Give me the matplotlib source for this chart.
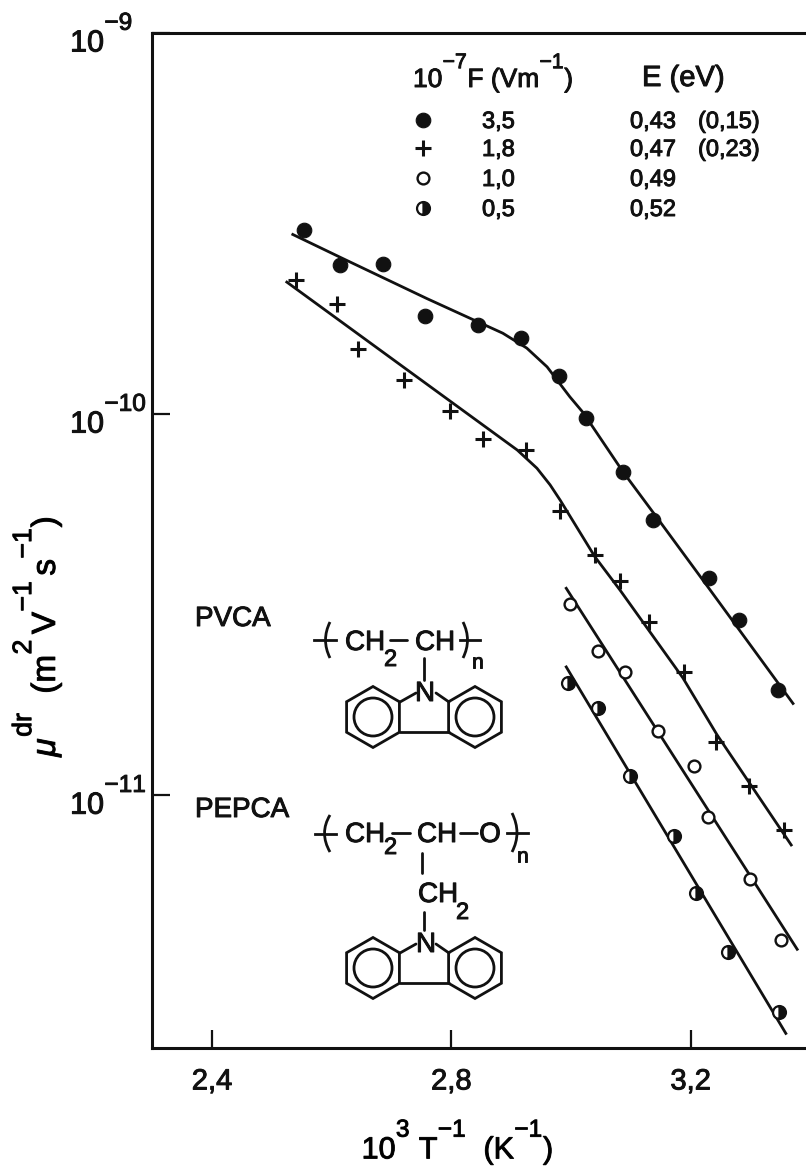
#!/usr/bin/env python3
"""Drift mobility against inverse temperature for PVCA / PEPCA."""

from __future__ import annotations

import numpy as np
import matplotlib

matplotlib.use("Agg")
import matplotlib._mathtext as mt
import matplotlib.patheffects as pe
import matplotlib.pyplot as plt
from matplotlib.patches import Circle, PathPatch, Polygon
from matplotlib.path import Path
from matplotlib.text import Text
from matplotlib.ticker import NullLocator

INK = "#111111"

# measured points, one pair of lists per field strength
X_35 = [2.554, 2.614, 2.686, 2.756, 2.845, 2.916, 2.980, 3.025, 3.087, 3.137, 3.230, 3.280, 3.346]
MU_35 = [3.04e-10, 2.46e-10, 2.48e-10, 1.81e-10, 1.71e-10, 1.58e-10, 1.26e-10, 9.77e-11, 7.05e-11,
         5.27e-11, 3.72e-11, 2.88e-11, 1.89e-11]
X_18 = [2.540, 2.609, 2.644, 2.721, 2.798, 2.853, 2.925, 2.982, 3.040, 3.082, 3.130, 3.189, 3.242, 3.297, 3.356]
MU_18 = [2.25e-10, 1.95e-10, 1.48e-10, 1.23e-10, 1.02e-10, 8.59e-11, 8.05e-11, 5.56e-11, 4.27e-11,
         3.65e-11, 2.85e-11, 2.10e-11, 1.38e-11, 1.06e-11, 8.09e-12]
X_10 = [2.998, 3.045, 3.090, 3.145, 3.205, 3.229, 3.299, 3.351]
MU_10 = [3.17e-11, 2.39e-11, 2.11e-11, 1.47e-11, 1.19e-11, 8.75e-12, 6.03e-12, 4.16e-12]
X_05 = [2.995, 3.045, 3.099, 3.172, 3.209, 3.262, 3.348]
MU_05 = [1.97e-11, 1.69e-11, 1.12e-11, 7.80e-12, 5.53e-12, 3.87e-12, 2.69e-12]

# hand-drawn fit lines
FIT_X_35 = [2.535, 2.614, 2.759, 2.836, 2.886, 2.926, 2.960, 2.998, 3.020, 3.087, 3.149, 3.231, 3.371]
FIT_MU_35 = [2.96e-10, 2.58e-10, 2.01e-10, 1.77e-10, 1.63e-10, 1.49e-10, 1.33e-10, 1.11e-10, 1.01e-10,
             7.05e-11, 5.21e-11, 3.48e-11, 1.74e-11]
FIT_X_18 = [2.525, 2.731, 2.910, 2.943, 2.965, 2.982, 3.040, 3.082, 3.132, 3.187, 3.244, 3.368]
FIT_MU_18 = [2.22e-10, 1.29e-10, 8.05e-11, 7.21e-11, 6.52e-11, 5.94e-11, 4.22e-11, 3.45e-11, 2.68e-11,
             2.03e-11, 1.44e-11, 7.40e-12]
FIT_X_10 = [2.992, 3.378]
FIT_MU_10 = [3.49e-11, 3.94e-12]
FIT_X_05 = [2.992, 3.359]
FIT_MU_05 = [2.17e-11, 2.37e-12]

X_TICKS = [2.4, 2.8, 3.2]
X_TICK_LABELS = ["2,4", "2,8", "3,2"]
Y_TICKS = [1e-11, 1e-10, 1e-9]
Y_TICK_LABELS = ["$10^{-11}$", "$10^{-10}$", "$10^{-9}$"]

FIELD_LABELS = ["3,5", "1,8", "1,0", "0,5"]
ENERGY_LABELS = ["0,43", "0,47", "0,49", "0,52"]
ENERGY_EXTRA = ["(0,15)", "(0,23)", "", ""]

FILLED = dict(marker="o", ms=10.5, mfc=INK, mec=INK, mew=0.8, ls="none")
PLUS = dict(marker="+", ms=12, mec=INK, mew=2.2, ls="none")
OPEN = dict(marker="o", ms=8.5, mfc="white", mec=INK, mew=1.7, ls="none")
HALF = dict(marker="o", ms=9.3, mfc=INK, mec=INK, mew=1.6, ls="none", fillstyle="right", markerfacecoloralt="white")


def label(ov, x, y, s, size=20, ha="left"):
    ov.text(x, y + 2, s, fontsize=size, va="center", ha=ha)


def bracket(ov, top, bulge, bottom, bar):
    path = Path([top, bulge, bottom], [Path.MOVETO, Path.CURVE3, Path.CURVE3])
    ov.add_patch(PathPatch(path, fc="none", ec=INK, lw=2.0))
    ov.plot(bar, [(top[1] + bottom[1]) / 2] * 2, color=INK, lw=2.0)


def bond(ov, xs, ys):
    ov.plot(xs, ys, color=INK, lw=2.0, solid_capstyle="round")


def carbazole(ov, y_mid):
    # two benzene rings joined by the five-membered ring with N at the top
    for cx in (373, 475):
        angles = np.deg2rad(np.arange(90, 450, 60))
        pts = np.column_stack([cx + 30.5 * np.cos(angles), y_mid - 30.5 * np.sin(angles)])
        ov.add_patch(Polygon(pts, closed=True, fc="none", ec=INK, lw=2.0))
        ov.add_patch(Circle((cx, y_mid), 19, fc="none", ec=INK, lw=2.0))
    bond(ov, [400, 416], [y_mid - 15, y_mid - 24])
    bond(ov, [436, 449], [y_mid - 24, y_mid - 15])
    bond(ov, [400, 449], [y_mid + 15, y_mid + 15])


def main() -> int:
    plt.rcParams.update(
        {
            "font.family": "Liberation Sans",
            "mathtext.fontset": "custom",
            "mathtext.rm": "Liberation Sans",
            "mathtext.it": "Liberation Sans:italic",
            "mathtext.bf": "Liberation Sans",
            "mathtext.default": "regular",
            "text.color": INK,
        }
    )
    # superscripts in the original are large and sit high
    mt.SHRINK_FACTOR = 0.8
    mt.FontConstantsBase.sup1 = 1.35

    fig = plt.figure(figsize=(8.06, 11.67), dpi=100)
    ax = fig.add_axes([152 / 806, (1167 - 1048) / 1167, 654 / 806, 1015 / 1167])
    ax.set_yscale("log")
    ax.set_xlim(2.2997, 3.3927)
    ax.set_ylim(2.17e-12, 1e-9)

    for xs, ys in [(FIT_X_35, FIT_MU_35), (FIT_X_18, FIT_MU_18), (FIT_X_10, FIT_MU_10), (FIT_X_05, FIT_MU_05)]:
        ax.plot(xs, ys, color=INK, lw=2.0, solid_joinstyle="round")
    ax.plot(X_35, MU_35, **FILLED)
    ax.plot(X_18, MU_18, **PLUS)
    ax.plot(X_10, MU_10, **OPEN)
    ax.plot(X_05, MU_05, **HALF)

    ax.set_xticks(X_TICKS)
    ax.set_xticklabels(X_TICK_LABELS, fontsize=21)
    ax.set_yticks(Y_TICKS)
    ax.set_yticklabels(Y_TICK_LABELS, fontsize=22, ha="left")
    ax.yaxis.set_minor_locator(NullLocator())
    ax.tick_params(axis="both", direction="in", length=13, width=1.6, color=INK, labelcolor=INK)
    ax.tick_params(axis="x", pad=14)
    ax.tick_params(axis="y", pad=59)
    ax.spines["right"].set_visible(False)
    for name in ("left", "top", "bottom"):
        ax.spines[name].set_linewidth(2.2)
        ax.spines[name].set_color(INK)

    ax.set_xlabel("$10^{3}\\ T^{-1}\\ \\ (K^{-1})$", fontsize=22, va="center")
    ax.xaxis.set_label_coords(0.467, -0.0925)
    ax.set_ylabel("$\\mathit{\\mu}^{dr}\\ \\ (m^{2}\\,V^{-1}\\,s^{-1})$", fontsize=24, va="center")
    ax.yaxis.set_label_coords(-0.176, 0.406)

    # overlay in image pixels for the inset legend and the structures
    ov = fig.add_axes([0, 0, 1, 1])
    ov.set_xlim(0, 806)
    ov.set_ylim(1167, 0)
    ov.axis("off")

    label(ov, 413, 71, "$10^{-7}F\\ (Vm^{-1})$", size=19)
    label(ov, 642, 76, "E (eV)", size=21)
    row_y = [120, 148, 178, 208]
    for y, style, field, energy, extra in zip(row_y, [FILLED, PLUS, OPEN, HALF], FIELD_LABELS, ENERGY_LABELS, ENERGY_EXTRA):
        ov.plot([423], [y], **style)
        label(ov, 482, y, field, size=17)
        label(ov, 630, y, energy, size=17)
        if extra:
            label(ov, 698, y, extra, size=17)

    label(ov, 195, 617, "PVCA")
    bracket(ov, (330, 622), (321, 640), (330, 658), [314, 336])
    label(ov, 345, 641, "CH")
    label(ov, 384, 658, "2", size=17)
    bond(ov, [390, 407], [640, 640])
    label(ov, 415, 641, "CH")
    bracket(ov, (463, 622), (472, 640), (463, 658), [460, 480])
    label(ov, 478, 661, "n", size=15, ha="center")
    bond(ov, [424, 424], [658, 680])
    label(ov, 425, 692, "N", ha="center")
    carbazole(ov, 717)

    label(ov, 195, 808, "PEPCA")
    bracket(ov, (330, 815), (319, 833), (330, 852), [315, 336])
    label(ov, 345, 833, "CH")
    label(ov, 384, 846, "2", size=17)
    bond(ov, [392, 410], [833, 833])
    label(ov, 417, 833, "CH")
    bond(ov, [460, 477], [833, 833])
    label(ov, 490, 833, "O", ha="center")
    bracket(ov, (512, 813), (522, 833), (512, 852), [507, 528])
    label(ov, 523, 855, "n", size=15, ha="center")
    bond(ov, [422, 422], [853, 873])
    label(ov, 418, 893, "CH")
    label(ov, 456, 911, "2", size=17)
    bond(ov, [424, 424], [912, 930])
    label(ov, 426, 943, "N", ha="center")
    carbazole(ov, 968)

    # the lettering in the scan is heavier than the regular weight
    for text in fig.findobj(Text):
        text.set_path_effects([pe.withStroke(linewidth=0.7, foreground=INK)])

    fig.savefig("out.png", dpi=100, facecolor="white")
    plt.close(fig)
    return 0


if __name__ == "__main__":
    raise SystemExit(main())
